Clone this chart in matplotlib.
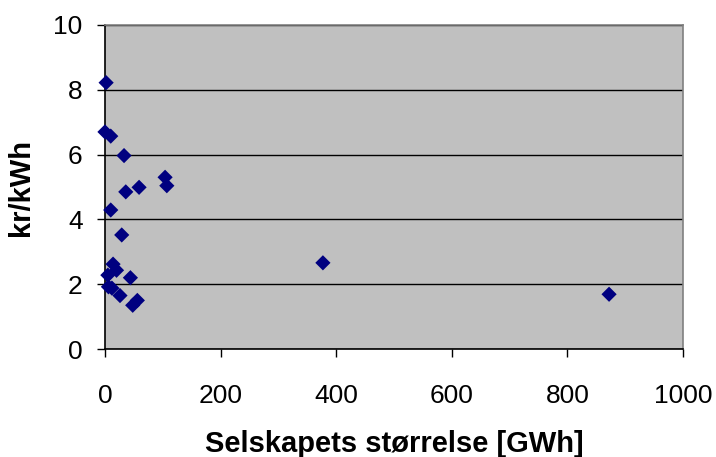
import matplotlib.pyplot as plt

plt.rcParams['font.family'] = ['Liberation Sans', 'DejaVu Sans']

# company size [GWh] and cost [kr/kWh]
size_gwh = [2, 0, 10, 33, 104, 107, 59, 36, 10, 29,
            14, 20, 5, 44, 6, 12, 26, 48, 56, 377, 872]
cost_kr = [8.22, 6.70, 6.57, 5.97, 5.30, 5.04, 4.99, 4.85, 4.29, 3.52,
           2.62, 2.43, 2.28, 2.20, 1.92, 1.88, 1.65, 1.35, 1.50, 2.66, 1.69]

x_ticks = [0, 200, 400, 600, 800, 1000]
y_ticks = [0, 2, 4, 6, 8, 10]

fig = plt.figure(figsize=(7.16, 4.57), dpi=100)
ax = fig.add_axes([0.1466, 0.2363, 0.8074, 0.7090])
ax.set_facecolor('#C0C0C0')

ax.scatter(size_gwh, cost_kr, marker='D', s=60, color='#000080',
           edgecolors='none', zorder=3, clip_on=False)

ax.set_xlim(0, 1000)
ax.set_ylim(0, 10)
ax.set_xticks(x_ticks)
ax.set_yticks(y_ticks)
ax.yaxis.grid(True, color='black', linewidth=1)
ax.set_axisbelow(True)

ax.spines['left'].set_color('black')
ax.spines['bottom'].set_color('black')
ax.spines['top'].set_color('#808080')
ax.spines['right'].set_color('#808080')
for sp in ax.spines.values():
    sp.set_linewidth(1.2)

ax.tick_params(direction='out', length=6, width=1, labelsize=19)
ax.tick_params(axis='x', pad=19)
ax.tick_params(axis='y', pad=10)
ax.set_xlabel('Selskapets størrelse [GWh]', fontsize=21, fontweight='bold', labelpad=16)
ax.set_ylabel('kr/kWh', fontsize=21, fontweight='bold', labelpad=13)

fig.savefig('out.png', dpi=100)
